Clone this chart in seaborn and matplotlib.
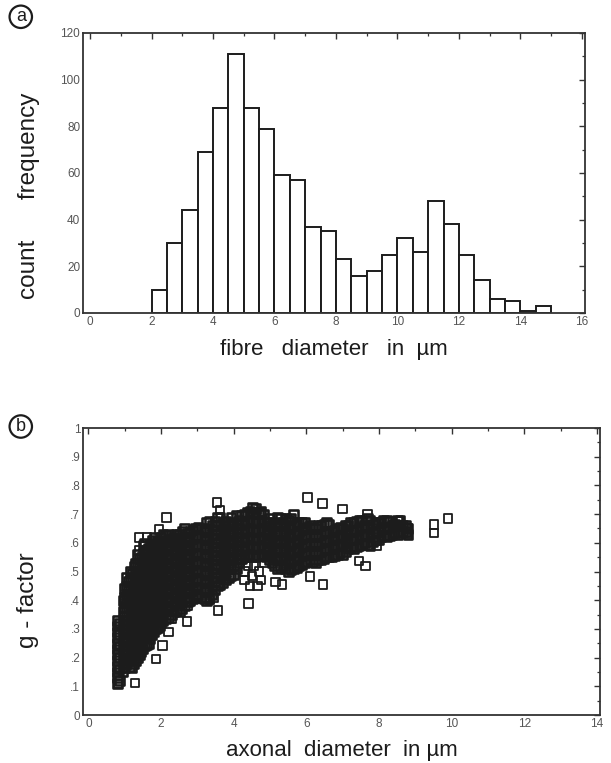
import numpy as np
import pandas as pd
import matplotlib
matplotlib.use("Agg")
import matplotlib.pyplot as plt
import seaborn as sns
from matplotlib.ticker import MultipleLocator, FixedLocator, FixedFormatter

# ---------------------------------------------------------------- data
# (a) fibre diameter histogram, 0.5 um bins from 2 to 15
bin_edges = [2.0, 2.5, 3.0, 3.5, 4.0, 4.5, 5.0, 5.5, 6.0, 6.5, 7.0, 7.5, 8.0,
             8.5, 9.0, 9.5, 10.0, 10.5, 11.0, 11.5, 12.0, 12.5, 13.0, 13.5,
             14.0, 14.5, 15.0]
fibre_counts = [10, 30, 44, 69, 88, 111, 88, 79, 59, 57, 37, 35, 23, 16, 18,
                25, 32, 26, 48, 38, 25, 14, 6, 5, 1, 3]

# (b) g-factor vs axonal diameter
thin_cols = [
    (0.80, [.11, .13, .15, .17, .19, .21, .23, .25, .27, .29, .31, .33]),
    (0.85, [.12, .16, .20, .24, .28, .32]),
    (0.95, [.15, .18, .21, .24, .27, .30, .33, .36, .40]),
    (1.00, [.165, .195, .225, .255, .285, .315, .345, .375, .41, .44]),
    (1.05, [.18, .21, .24, .27, .30, .33, .36, .39, .42, .45, .48]),
    (1.10, [.19, .225, .255, .285, .315, .345, .375, .405, .435, .465]),
    (1.15, [.17, .20, .23, .26, .29, .32, .35, .38, .41, .44, .47, .50]),
    (1.20, [.165, .195, .225, .255, .285, .315, .345, .375, .405, .435, .465, .495]),
    (1.25, [.18, .21, .24, .27, .30, .33, .36, .39, .42, .45, .48, .52]),
    (1.30, [.19, .225, .255, .285, .315, .345, .375, .405, .435, .465, .495, .53]),
    (1.35, [.20, .23, .26, .29, .32, .35, .38, .41, .44, .47, .50, .53, .56]),
    (1.40, [.21, .245, .275, .305, .335, .365, .395, .425, .455, .485, .515, .545]),
    (1.45, [.22, .25, .28, .31, .34, .37, .40, .43, .46, .49, .52, .55]),
    (1.50, [.23, .265, .295, .325, .355, .385, .415, .445, .475, .505, .535, .565, .59]),
    (1.55, [.24, .27, .30, .33, .36, .39, .42, .45, .48, .51, .54, .57, .60]),
    (1.60, [.245, .275, .305, .335, .365, .395, .425, .455, .485, .515, .545, .575]),
    (1.65, [.25, .28, .31, .34, .37, .40, .43, .46, .49, .52, .55, .58]),
    (1.70, [.265, .295, .325, .355, .385, .415, .445, .475, .505, .535, .565, .595]),
    (1.75, [.28, .31, .34, .37, .40, .43, .46, .49, .52, .55, .58, .61]),
    (1.80, [.29, .32, .35, .38, .41, .44, .47, .50, .53, .56, .59, .62]),
    (1.85, [.30, .33, .36, .39, .42, .45, .48, .51, .54, .57, .60]),
    (1.90, [.305, .335, .365, .395, .425, .455, .485, .515, .545, .575, .605]),
    (1.95, [.31, .34, .37, .40, .43, .46, .49, .52, .55, .58, .61]),
    (2.00, [.32, .35, .38, .41, .44, .47, .50, .53, .56, .59, .62]),
]
medium_cols = [
    (2.05, [.33, .36, .39, .42, .45, .48, .51, .54, .57, .60, .63]),
    (2.12, [.335, .365, .395, .425, .455, .485, .515, .545, .575, .605, .625]),
    (2.20, [.34, .37, .40, .43, .46, .49, .52, .55, .58, .61, .63]),
    (2.28, [.35, .38, .41, .44, .47, .50, .53, .56, .59, .615]),
    (2.35, [.36, .39, .42, .45, .48, .51, .54, .57, .60, .62]),
    (2.42, [.365, .395, .425, .455, .485, .515, .545, .575, .605, .63]),
    (2.50, [.36, .39, .42, .45, .48, .51, .54, .57, .60, .63]),
    (2.58, [.37, .40, .43, .46, .49, .52, .55, .58, .61, .64]),
    (2.65, [.38, .41, .44, .47, .50, .53, .56, .59, .62, .65]),
    (2.72, [.395, .425, .455, .485, .515, .545, .575, .605, .635]),
    (2.80, [.40, .43, .46, .49, .52, .55, .58, .61, .64]),
    (2.88, [.405, .435, .465, .495, .525, .555, .585, .615, .645]),
    (2.95, [.41, .44, .47, .50, .53, .56, .59, .62, .65]),
    (3.02, [.415, .445, .475, .505, .535, .565, .595, .625, .655]),
    (3.10, [.41, .44, .47, .50, .53, .56, .59, .62, .65]),
    (3.18, [.405, .435, .465, .495, .525, .555, .585, .615, .645]),
    (3.25, [.40, .43, .46, .49, .52, .55, .58, .61, .64, .67]),
    (3.32, [.41, .44, .47, .50, .53, .56, .59, .62, .65, .675]),
    (3.40, [.42, .45, .48, .51, .54, .57, .60, .63, .66]),
    (3.48, [.435, .465, .495, .525, .555, .585, .615, .645, .675]),
    (3.55, [.45, .48, .51, .54, .57, .60, .63, .66, .69]),
    (3.62, [.455, .485, .515, .545, .575, .605, .635, .665, .69]),
    (3.70, [.46, .49, .52, .55, .58, .61, .64, .67]),
    (3.78, [.47, .50, .53, .56, .59, .62, .65, .675]),
    (3.85, [.48, .51, .54, .57, .60, .63, .66]),
    (3.92, [.485, .515, .545, .575, .605, .635, .665, .69]),
    (4.00, [.49, .52, .55, .58, .61, .64, .67]),
]
thick_cols = [
    (4.08, [.51, .545, .575, .605, .635, .665, .695]),
    (4.15, [.53, .56, .59, .62, .65, .68]),
    (4.22, [.545, .575, .605, .635, .665, .695]),
    (4.30, [.55, .58, .61, .64, .67, .70]),
    (4.38, [.555, .585, .615, .645, .675, .705]),
    (4.45, [.56, .59, .62, .65, .68, .71]),
    (4.52, [.555, .585, .615, .645, .675, .705, .725]),
    (4.60, [.55, .58, .61, .64, .67, .70, .72]),
    (4.68, [.555, .585, .615, .645, .675, .705]),
    (4.75, [.56, .59, .62, .65, .68, .71]),
    (4.82, [.555, .585, .615, .645, .675, .70]),
    (4.90, [.55, .58, .61, .64, .67]),
    (4.98, [.54, .57, .60, .63, .66, .685]),
    (5.05, [.53, .56, .59, .62, .65]),
    (5.12, [.52, .55, .58, .61, .64, .67]),
    (5.20, [.51, .54, .57, .60, .63, .66, .69]),
    (5.28, [.515, .545, .575, .605, .635, .665, .685]),
    (5.35, [.52, .55, .58, .61, .64, .67]),
    (5.42, [.51, .54, .57, .60, .63, .66, .685]),
    (5.50, [.50, .53, .56, .59, .62, .65, .68]),
    (5.58, [.505, .535, .565, .595, .625, .655, .685]),
    (5.65, [.51, .54, .57, .60, .63, .66, .70]),
    (5.72, [.515, .545, .575, .605, .635, .665]),
    (5.80, [.52, .55, .58, .61, .64, .67]),
    (5.88, [.525, .555, .585, .615, .645, .67]),
    (5.95, [.53, .56, .59, .62, .65, .67]),
    (6.02, [.535, .565, .595, .625, .655]),
    (6.10, [.54, .57, .60, .63, .66]),
    (6.18, [.535, .565, .595, .625, .655]),
    (6.25, [.53, .56, .59, .62, .65]),
    (6.32, [.54, .57, .60, .63, .66]),
    (6.40, [.54, .57, .60, .63, .66]),
    (6.48, [.545, .575, .605, .635, .665]),
    (6.55, [.55, .58, .61, .64, .67]),
    (6.62, [.55, .58, .61, .64, .665]),
    (6.70, [.55, .58, .61, .64]),
    (6.78, [.555, .585, .615, .645]),
    (6.85, [.56, .59, .62, .65]),
    (6.92, [.565, .595, .625, .655]),
    (7.00, [.56, .59, .62, .65]),
    (7.08, [.57, .60, .63, .66]),
    (7.15, [.58, .61, .64, .66]),
    (7.22, [.585, .615, .645, .67]),
    (7.30, [.58, .61, .64, .67]),
    (7.38, [.585, .615, .645, .675]),
    (7.45, [.59, .62, .65, .68]),
    (7.52, [.595, .625, .655, .68]),
    (7.60, [.60, .63, .66]),
    (7.68, [.595, .625, .655, .685]),
    (7.75, [.59, .62, .65, .68]),
    (7.82, [.605, .635, .665]),
    (7.90, [.61, .64, .67]),
    (7.98, [.61, .64, .67]),
    (8.05, [.62, .65, .67]),
    (8.12, [.625, .655, .68]),
    (8.20, [.62, .65, .68]),
    (8.28, [.625, .655, .675]),
    (8.35, [.63, .66]),
    (8.42, [.635, .665]),
    (8.50, [.63, .66, .68]),
    (8.58, [.635, .66, .68]),
    (8.65, [.64, .66]),
    (8.72, [.64, .66]),
    (8.80, [.63, .65]),
]
ring_pts = [(4.30, .50), (4.40, .52), (4.55, .52), (4.70, .50), (4.75, .47),
            (4.65, .45), (4.45, .45), (4.30, .47), (4.50, .485), (4.20, .54),
            (4.85, .53), (3.20, .41), (3.35, .40), (3.45, .41), (3.00, .42)]
outliers = [(9.89, .685), (9.52, .664), (9.52, .635), (6.03, .758), (6.44, .737),
            (6.99, .717), (7.68, .700), (3.53, .740), (3.62, .714), (2.15, .688),
            (6.09, .483), (6.46, .455), (5.15, .464), (5.32, .455), (4.41, .389),
            (3.56, .364), (7.44, .536), (7.63, .519), (7.95, .589), (1.28, .111),
            (0.82, .107), (1.86, .195), (2.04, .242), (2.20, .289), (2.71, .326),
            (2.29, .334), (2.73, .379), (1.94, .647), (1.40, .618), (1.62, .618),
            (1.40, .573), (1.65, .573), (8.56, .676), (8.80, .650), (8.80, .630)]

# ---------------------------------------------------------------- tables
core_rows = [(d, g) for cols in (thin_cols, medium_cols, thick_cols)
             for d, gs in cols for g in gs]
core_df = pd.DataFrame(core_rows, columns=["axon_d", "g"])
edge_df = pd.DataFrame(ring_pts + outliers, columns=["axon_d", "g"])

centres = [(a + b) / 2 for a, b in zip(bin_edges[:-1], bin_edges[1:])]
hist_df = pd.DataFrame({"d": centres, "n": fibre_counts})

# ---------------------------------------------------------------- style
sns.set_style("white")
plt.rcParams["font.family"] = ["Liberation Sans", "DejaVu Sans"]
INK = "#1c1c1c"
GREY = "#555555"

fig = plt.figure(figsize=(6.11, 7.63), dpi=100)
ax_a = fig.add_axes([0.1358, 0.5898, 0.8216, 0.3670])
ax_b = fig.add_axes([0.1358, 0.0629, 0.8462, 0.3761])


def frame(ax):
    for s in ax.spines.values():
        s.set_visible(True)
        s.set_color("#333333")
        s.set_linewidth(1.3)
    ax.tick_params(which="both", direction="in", top=True, right=True,
                   color="#333333", labelsize=8.5, labelcolor=GREY, pad=2)
    ax.tick_params(which="major", length=4, width=1)
    ax.tick_params(which="minor", length=2.5, width=0.9)


# (a) histogram
sns.histplot(data=hist_df, x="d", weights="n", bins=bin_edges, ax=ax_a,
             color="white", edgecolor=INK, linewidth=1.4, alpha=1)
ax_a.set_xlim(-0.23, 16.1)
ax_a.set_ylim(0, 120)
ax_a.xaxis.set_major_locator(MultipleLocator(2))
ax_a.xaxis.set_minor_locator(MultipleLocator(1))
ax_a.yaxis.set_major_locator(MultipleLocator(20))
ax_a.yaxis.set_minor_locator(MultipleLocator(10))
frame(ax_a)
ax_a.set_xlabel("fibre   diameter   in  µm", fontsize=16, color=INK, labelpad=8)
ax_a.set_ylabel("count      frequency", fontsize=17.5, color=INK)
ax_a.yaxis.set_label_coords(-0.085, 0.42)

# (b) scatter: dense core drawn with heavier outlines, sparse points lighter
sns.scatterplot(data=core_df, x="axon_d", y="g", ax=ax_b, marker="s",
                s=38, color=INK, linewidth=1.9, legend=False)
sns.scatterplot(data=edge_df, x="axon_d", y="g", ax=ax_b, marker="s",
                s=36, color=INK, linewidth=1.3, legend=False)
for pts in ax_b.collections:
    pts.set_facecolor("none")
    pts.set_edgecolor(INK)
ax_b.set_xlim(-0.15, 14.08)
ax_b.set_ylim(0, 1)
ax_b.xaxis.set_major_locator(MultipleLocator(2))
ax_b.xaxis.set_minor_locator(MultipleLocator(1))
g_ticks = [0, .1, .2, .3, .4, .5, .6, .7, .8, .9, 1]
g_labels = ["0", ".1", ".2", ".3", ".4", ".5", ".6", ".7", ".8", ".9", "1"]
ax_b.yaxis.set_major_locator(FixedLocator(g_ticks))
ax_b.yaxis.set_major_formatter(FixedFormatter(g_labels))
ax_b.yaxis.set_minor_locator(MultipleLocator(0.05))
frame(ax_b)
ax_b.set_xlabel("axonal  diameter  in µm", fontsize=16, color=INK, labelpad=7)
ax_b.set_ylabel("g - factor", fontsize=17.5, color=INK)
ax_b.yaxis.set_label_coords(-0.085, 0.40)

# panel letters
circ = dict(boxstyle="circle,pad=0.15", fc="white", ec=INK, lw=1.6)
fig.text(0.034, 0.978, "a", fontsize=13, ha="center", va="center",
         color=INK, bbox=circ)
fig.text(0.034, 0.441, "b", fontsize=13, ha="center", va="center",
         color=INK, bbox=circ)

fig.savefig("out.png", dpi=100)
